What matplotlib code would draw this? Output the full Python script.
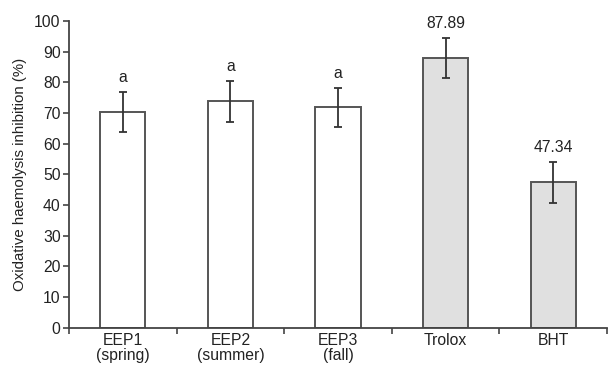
import matplotlib
matplotlib.use("Agg")
import matplotlib.pyplot as plt
import numpy as np

categories = ["EEP1\n(spring)", "EEP2\n(summer)", "EEP3\n(fall)", "Trolox", "BHT"]
values = [70.2, 73.8, 71.8, 87.89, 47.34]
errors = [6.5, 6.6, 6.4, 6.5, 6.6]
labels = ["a", "a", "a", "87.89", "47.34"]
fills = ["white", "white", "white", "#e0e0e0", "#e0e0e0"]

plt.rcParams["font.family"] = ["Liberation Sans", "DejaVu Sans"]

fig = plt.figure(figsize=(6.10, 3.67), dpi=100)
ax = fig.add_axes([0.113, 0.107, 0.882, 0.836])

x = np.arange(len(categories))
ax.bar(x, values, width=0.42, color=fills, edgecolor="#555555", linewidth=1.4, zorder=2)
ax.errorbar(x, values, yerr=errors, fmt="none", ecolor="#333333", elinewidth=1.3,
            capsize=3, capthick=1.3, zorder=3)
for xi, v, e, lab in zip(x, values, errors, labels):
    ax.annotate(lab, (xi, v + e), xytext=(0, 5), textcoords="offset points",
                ha="center", va="bottom", fontsize=11.3, color="#222222")

ax.set_xlim(-0.5, 4.5)
ax.set_ylim(0, 100)
ax.set_yticks(np.arange(0, 101, 10))
ax.set_xticks(x)
ax.set_xticklabels(categories, fontsize=11.3, color="#222222", linespacing=1.0)
ax.set_xticks(np.arange(-0.5, 5.0, 1.0), minor=True)
ax.tick_params(axis="x", which="major", length=0, pad=4)
ax.tick_params(axis="x", which="minor", length=4, width=1.2, color="#444444")
ax.tick_params(axis="y", length=4, width=1.2, color="#444444", labelsize=11.3,
               labelcolor="#222222", pad=2)
ax.set_ylabel("Oxidative haemolysis inhibition (%)", fontsize=10.8, color="#222222", labelpad=5)

for s in ["top", "right"]:
    ax.spines[s].set_visible(False)
for s in ["left", "bottom"]:
    ax.spines[s].set_color("#444444")
    ax.spines[s].set_linewidth(1.3)

fig.savefig("out.png", dpi=100)
